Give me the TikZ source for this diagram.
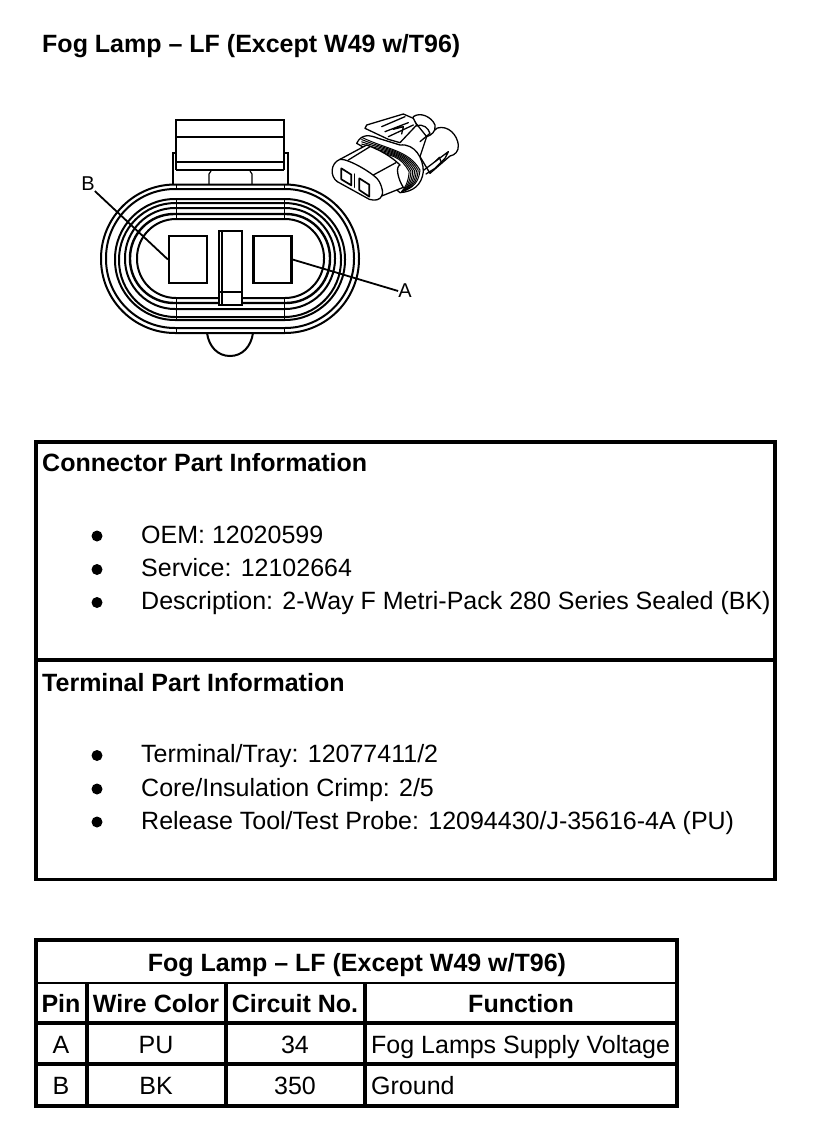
\documentclass[tikz,border=0pt]{standalone}
\usepackage{fontspec}
\setmainfont{Liberation Sans}
\usetikzlibrary{calc}
\newcommand{\bodysize}{\fontsize{25}{29}\selectfont}
\begin{document}
\begin{tikzpicture}[x=1pt,y=-1pt,
  txt/.style={inner sep=0pt,font=\bodysize,anchor=base west},
  hd/.style={inner sep=0pt,font=\bodysize\bfseries,anchor=base west},
  ctr/.style={inner sep=0pt,font=\bodysize,anchor=base},
  ctrb/.style={inner sep=0pt,font=\bodysize\bfseries,anchor=base},
  lab/.style={inner sep=0pt,font=\fontsize{20}{24}\selectfont},
  frame/.style={draw,line width=3.4pt},
  grid/.style={draw,line width=3.6pt},
  thin1/.style={draw,line width=2pt},
  ring/.style={draw,line width=2pt},
  term/.style={draw,line width=2.2pt,rectangle,minimum width=38pt,minimum height=47pt,inner sep=0pt,fill=white},
  lead/.style={draw,line width=1.8pt},
  sk/.style={draw,line width=1.3pt,line join=round,line cap=round},
  bullet/.style={circle,fill=black,minimum size=11pt,inner sep=0pt}]
\useasboundingbox (0,0) rectangle (832,1138);
\node[hd] (title) at (42,52) {Fog Lamp – LF (Except W49 w/T96)};

% main connector: latch
\draw[thin1,fill=white] (173,185) -- (173,153) -- (176,153) -- (176,120) -- (284,120) -- (284,153) -- (288,153) -- (288,185) -- cycle;
\draw[line width=2.4pt] (176,120) -- (284,120);
\draw[line width=2.4pt] (176,137) -- (284,137);
\draw[line width=2.4pt] (176,162) -- (284,162);
\draw[line width=2.4pt] (176,170) -- (284,170);
\draw[thin1] (176,153) -- (176,170) (284,153) -- (284,170);
\draw[line width=1.2pt] (209,184) -- (209,174) -- (211,171) (252,184) -- (252,174) -- (250,171);
% bump
\draw[thin1,fill=white] (207,333) .. controls (209,347) and (218,356) .. (230,356) .. controls (242,356) and (251,347) .. (253,333);
% rings
\draw[ring,fill=white,rounded corners=74pt] (101,184.5) rectangle (359,333);
\draw[ring,rounded corners=69pt] (106,189) rectangle (354,328);
\draw[ring,rounded corners=60pt] (115,199) rectangle (345,320);
\draw[ring,rounded corners=56.5pt] (119,203) rectangle (341,317);
\draw[ring,rounded corners=50pt] (125,208) rectangle (335,309);
\draw[ring,line width=2.4pt,rounded corners=44pt] (130,214) rectangle (330,303);
\draw[ring,rounded corners=39pt] (137,219) rectangle (324,298);
\draw[line width=1pt] (176,185) -- (176,189) (284,185) -- (284,189);
\draw[line width=1pt] (176,199) -- (176,219) (284,199) -- (284,219);
\draw[line width=1pt] (176,298) -- (176,320) (284,298) -- (284,320);
\draw[line width=1pt] (176,328) -- (176,333) (284,328) -- (284,333);
% centre post
\draw[line width=2.8pt,fill=white] (219,231) rectangle (242,305);
\draw[line width=1.2pt] (222,232) -- (222,304);
\draw[line width=1.4pt] (219,292) -- (242,292);
% terminals
\node[term] (termB) at (188,259.5) {};
\node[term] (termA) at (272.5,259.5) {};
% labels and leaders
\node[lab] (labB) at (88,184) {B};
\node[lab] (labA) at (405,291) {A};
\draw[lead] (labB.south east) -- (termB.west);
\draw[lead] (termA.east) -- (labA.west);

% small connector view
\begin{scope}[shift={(320,100)},scale=1/3]
\draw[sk,fill=white] (352,84) .. controls (385,75) and (412,105) .. (415,135) .. controls (416,155) and (405,165) .. (390,168) -- (330,220) -- (300,170) -- (320,110) -- cycle;
\draw[sk,fill=white] (280,50) .. controls (300,35) and (335,50) .. (345,75) .. controls (348,95) and (335,105) .. (320,110) -- (280,60) -- cycle;
\draw[sk,fill=white] (140,75) -- (250,42) -- (280,55) -- (290,75) -- (240,128) -- (205,118) -- (135,85) -- cycle;
\draw[sk] (185,80) -- (255,50) (195,95) -- (265,68) (205,110) -- (280,75) (220,88) -- (250,80) -- (245,102) (290,78) .. controls (310,70) and (325,85) .. (330,100) -- (300,125);
\draw[sk,fill=white] (110,130) .. controls (125,100) and (150,105) .. (175,115) -- (240,135) .. controls (285,130) and (310,175) .. (310,215) .. controls (305,255) and (280,275) .. (240,278) .. controls (220,270) and (190,170) .. (110,130) -- cycle;
\foreach \d in {0,9,18,27,36,45,54}{
  \draw[sk,line width=1pt] (125,{112+\d*.75}) .. controls ({205+\d*.3},{150+\d*.2}) and ({265-\d*.4},{150+\d*.4}) .. ({300-\d*.6},{210+\d*.1}) .. controls ({297-\d*.6},{245+\d*.1}) and ({280-\d*.5},{265}) .. ({245},{275});
}
\draw[sk,fill=white] (60,178) -- (140,135) .. controls (180,150) and (215,170) .. (240,195) .. controls (225,200) and (235,240) .. (250,262) -- (185,288) .. controls (180,300) and (165,303) .. (148,298) -- (52,245) .. controls (30,230) and (30,190) .. (60,178) -- cycle;
\draw[sk] (60,178) .. controls (85,175) and (170,225) .. (178,245) .. controls (188,265) and (190,280) .. (185,288);
\draw[sk] (85,180) -- (150,140) (160,225) -- (228,188);
\draw[sk,line width=1.7pt] (64,205) -- (94,224) -- (94,256) -- (64,238) -- cycle;
\draw[sk,line width=1.7pt] (118,235) -- (148,254) -- (148,290) -- (118,270) -- cycle;
\draw[sk] (104,222) -- (104,262);
\draw[sk] (312,210) -- (345,185) -- (385,155) -- (375,175) -- (345,205) -- (318,222);
\draw[sk] (345,185) -- (358,172) -- (365,190);
\end{scope}

% part information boxes
\draw[frame] (36,442) rectangle (775,879.5);
\draw[frame] (36,660) -- (775,660);
\node[hd] (h1) at (42,471) {Connector Part Information};
\node[hd] (h2) at (42,691) {Terminal Part Information};
\foreach \n/\y/\t in {a/543/{OEM: 12020599},b/576.5/{Service: 12102664},c/609.5/{Description: 2-Way F Metri-Pack 280 Series Sealed (BK)},d/762.5/{Terminal/Tray: 12077411/2},e/796/{Core/Insulation Crimp: 2/5},f/829/{Release Tool/Test Probe: 12094430/J-35616-4A (PU)}}{
  \node[bullet] (b\n) at (97,\y-7) {};
  \node[txt] (t\n) at (141,\y) {\t};
}

% pin table
\draw[grid] (36,940) rectangle (677,1106);
\draw[line width=2.8pt] (36,983) -- (677,983);
\draw[grid] (36,1023) -- (677,1023);
\draw[grid] (36,1064) -- (677,1064);
\draw[grid] (87,983) -- (87,1106);
\draw[grid] (226,983) -- (226,1106);
\draw[grid] (365,983) -- (365,1106);
\node[ctrb] (tt) at (357,971) {Fog Lamp – LF (Except W49 w/T96)};
\node[ctrb] (c1) at (61,1012) {Pin};
\node[ctrb] (c2) at (156,1012) {Wire Color};
\node[ctrb] (c3) at (295,1012) {Circuit No.};
\node[ctrb] (c4) at (521,1012) {Function};
\node[ctr] (r1a) at (61,1053) {A};
\node[ctr] (r1b) at (156,1053) {PU};
\node[ctr] (r1c) at (295,1053) {34};
\node[txt] (r1d) at (371,1053) {Fog Lamps Supply Voltage};
\node[ctr] (r2a) at (61,1094) {B};
\node[ctr] (r2b) at (156,1094) {BK};
\node[ctr] (r2c) at (295,1094) {350};
\node[txt] (r2d) at (371,1094) {Ground};
\end{tikzpicture}
\end{document}
